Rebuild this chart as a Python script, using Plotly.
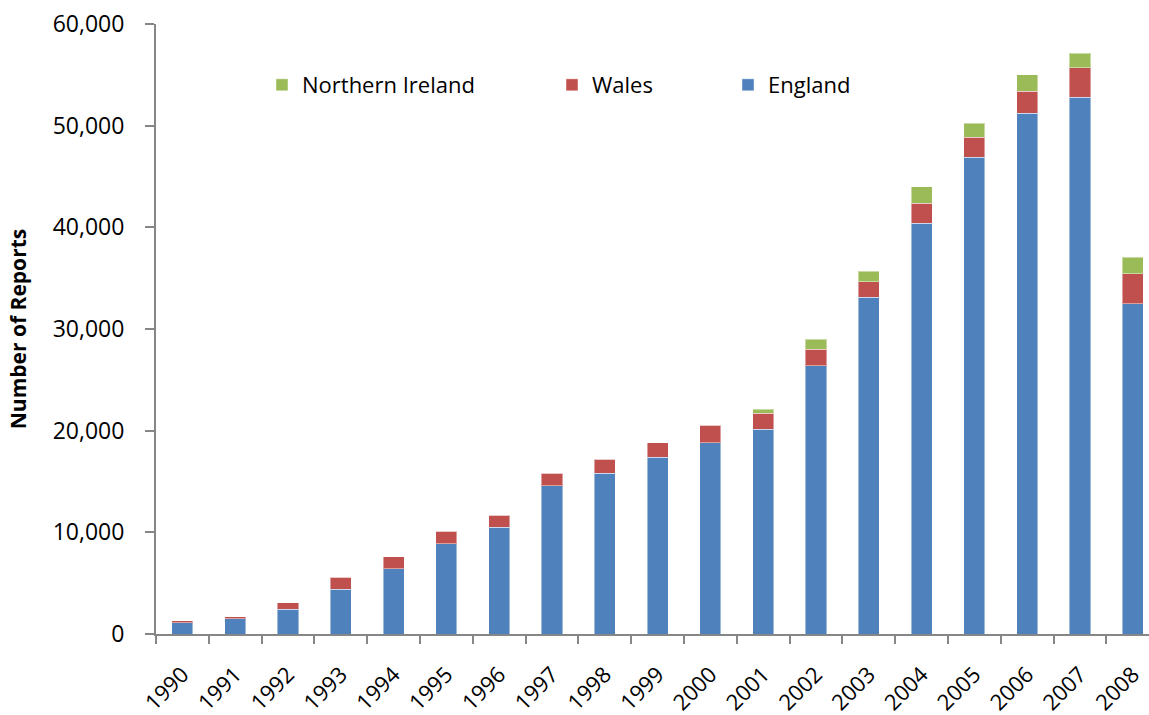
import plotly.graph_objects as go

# Annual number of reports by country, stacked
years = [str(y) for y in range(1990, 2009)]
england = [1100, 1500, 2450, 4400, 6400, 8900, 10500, 14600, 15800, 17400,
           18800, 20150, 26400, 33100, 40400, 46900, 51200, 52800, 32500]
wales = [200, 200, 600, 1200, 1200, 1200, 1200, 1200, 1400, 1400,
         1750, 1550, 1600, 1550, 1950, 1950, 2200, 2900, 2950]
northern_ireland = [0, 0, 0, 0, 0, 0, 0, 0, 0, 0,
                    0, 400, 1000, 1050, 1650, 1400, 1600, 1400, 1600]

y_ticks = [0, 10000, 20000, 30000, 40000, 50000, 60000]

FONT = "Open Sans"
AXIS_GREY = "#868686"
W, H = 1149, 715
PLOT_L, PLOT_T, PLOT_B = 156, 24, 634
plot_w = W - PLOT_L
plot_h = PLOT_B - PLOT_T
cat_px = 52.8
x_max = -0.5 + plot_w / cat_px

edge = dict(color="rgba(255,255,255,0.45)", width=1)

fig = go.Figure()
fig.add_trace(go.Bar(x=years, y=england, name="England",
                     marker=dict(color="#4F81BD", line=edge), legend="legend3"))
fig.add_trace(go.Bar(x=years, y=wales, name="Wales",
                     marker=dict(color="#C0504D", line=edge), legend="legend2"))
fig.add_trace(go.Bar(x=years, y=northern_ireland, name="Northern Ireland",
                     marker=dict(color="#9BBB59", line=edge), legend="legend"))

legend_style = dict(
    orientation="h", xanchor="left", yanchor="middle",
    y=(PLOT_B - 85) / plot_h,
    bgcolor="rgba(0,0,0,0)", borderwidth=0,
    font=dict(family=FONT, size=22, color="#000000"),
)


def lx(px):
    return (px - PLOT_L) / plot_w


fig.update_layout(
    width=W, height=H,
    barmode="stack", bargap=0.6,
    plot_bgcolor="white", paper_bgcolor="white",
    margin=dict(l=PLOT_L, r=0, t=PLOT_T, b=H - PLOT_B, autoexpand=False),
    font=dict(family=FONT, size=22, color="#000000"),
    showlegend=True,
    legend=dict(x=lx(262), **legend_style),
    legend2=dict(x=lx(552), **legend_style),
    legend3=dict(x=lx(728), **legend_style),
    xaxis=dict(
        type="category", range=[-0.5, x_max],
        tickson="boundaries", ticks="outside", ticklen=8,
        tickwidth=2, tickcolor=AXIS_GREY,
        showline=True, linecolor=AXIS_GREY, linewidth=2,
        showgrid=False, tickangle=-45, ticklabelstandoff=17,
        tickfont=dict(family=FONT, size=22, color="#000000"),
    ),
    yaxis=dict(
        range=[0, 60000], tickvals=y_ticks, tickformat=",d",
        ticks="outside", ticklen=9, tickwidth=2, tickcolor=AXIS_GREY,
        showline=True, linecolor=AXIS_GREY, linewidth=2,
        showgrid=False, zeroline=False, ticklabelstandoff=16,
        tickfont=dict(family=FONT, size=23, color="#000000"),
        title=dict(text="<b>Number of Reports</b>", standoff=20,
                   font=dict(family=FONT, size=21, color="#000000")),
    ),
)

fig.write_html("out.html")
